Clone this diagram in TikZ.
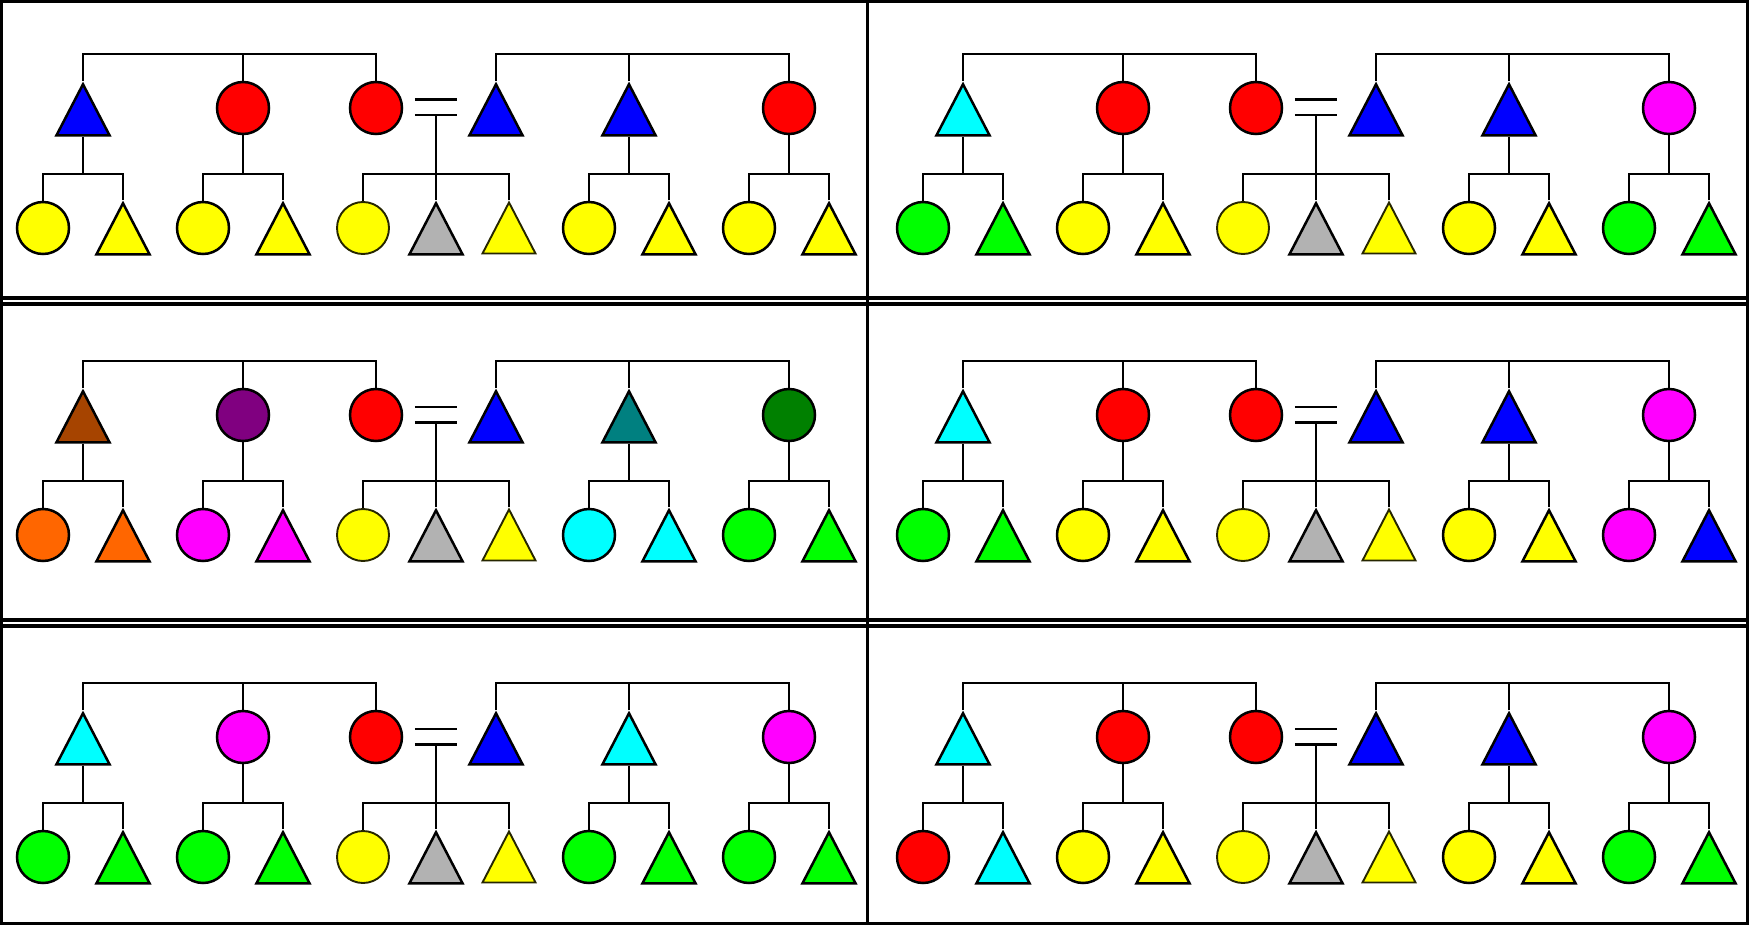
\PassOptionsToPackage{svgnames}{xcolor}
\documentclass[tikz,border=0pt]{standalone}
\usepackage{tikz}
\usetikzlibrary{shapes.geometric}
\definecolor{Rust}{RGB}{166,68,0}
\definecolor{Ash}{RGB}{178,178,178}
\definecolor{Pumpkin}{RGB}{255,102,0}

\begin{document}
\begin{tikzpicture}
          [x=1pt, y=-1pt, line width=2.5pt,
           male/.style={draw, isosceles triangle, isosceles triangle stretches,
                        shape border rotate=90, minimum width=53pt, minimum height=51pt,
                        inner sep=0pt, anchor=north, fill=#1},
           female/.style={draw, circle, minimum size=52pt, inner sep=0pt, fill=#1},
           faint/.style={line width=1.9pt, draw=black!85!Yellow},
           spouses/.style={minimum width=40pt, minimum height=13pt, inner sep=0pt},
           frame/.style={line width=3.5pt}]
          \useasboundingbox (0,0) rectangle (1750,925);

          \foreach \ox/\oy/\n/\ta/\tb/\tc/\td/\te/\tf/\ka/\kb/\kc/\kd/\ke/\kf/\kg/\kh/\ki/\kj/\kk in
            {0/0/A/Blue/Red/Red/Blue/Blue/Red/Yellow/Yellow/Yellow/Yellow/Yellow/Ash/Yellow/Yellow/Yellow/Yellow/Yellow,
             880/0/B/Cyan/Red/Red/Blue/Blue/Magenta/Lime/Lime/Yellow/Yellow/Yellow/Ash/Yellow/Yellow/Yellow/Lime/Lime,
             0/307/C/Rust/Purple/Red/Blue/Teal/Green/Pumpkin/Pumpkin/Magenta/Magenta/Yellow/Ash/Yellow/Cyan/Cyan/Lime/Lime,
             880/307/D/Cyan/Red/Red/Blue/Blue/Magenta/Lime/Lime/Yellow/Yellow/Yellow/Ash/Yellow/Yellow/Yellow/Magenta/Blue,
             0/629/E/Cyan/Magenta/Red/Blue/Cyan/Magenta/Lime/Lime/Lime/Lime/Yellow/Ash/Yellow/Lime/Lime/Lime/Lime,
             880/629/F/Cyan/Red/Red/Blue/Blue/Magenta/Red/Cyan/Yellow/Yellow/Yellow/Ash/Yellow/Yellow/Yellow/Lime/Lime}
          {
          \begin{scope}[shift={(\ox,\oy)}]
          % parents' generation
          \node (\n1) [male=\ta] at (83,81) {};
          \node (\n2) [female=\tb] at (243,108) {};
          \node (\n3) [female=\tc] at (376,108) {};
          \node (\n0) [spouses] at (436,107.5) {};
          \node (\n4) [male=\td] at (496,81) {};
          \node (\n5) [male=\te] at (629,81) {};
          \node (\n6) [female=\tf] at (789,108) {};
          % children
          \node (\n7) [female=\ka] at (43,228) {};
          \node (\n8) [male=\kb] at (123,200) {};
          \node (\n9) [female=\kc] at (203,228) {};
          \node (\n10) [male=\kd] at (283,200) {};
          \node (\n11) [female=\ke, faint] at (363,228) {};
          \node (\n12) [male=\kf] at (436,200) {};
          \node (\n13) [male=\kg, faint] at (509,200) {};
          \node (\n14) [female=\kh] at (589,228) {};
          \node (\n15) [male=\ki] at (669,200) {};
          \node (\n16) [female=\kj] at (749,228) {};
          \node (\n17) [male=\kk] at (829,200) {};
          \coordinate (\n-s) at (0,54);
          \coordinate (\n-k) at (0,174);

          \draw (\n1.north) |- (\n2.north |- \n-s) -| (\n3.north);
          \draw (\n2.north) -- (\n2.north |- \n-s);
          \draw (\n4.north) |- (\n5.north |- \n-s) -| (\n6.north);
          \draw (\n5.north) -- (\n5.north |- \n-s);
          \draw (\n0.north west) -- (\n0.north east) (\n0.south west) -- (\n0.south east);

          \draw (\n1.south) -- (\n1.south |- \n-k);
          \draw (\n7.north) |- (\n1.south |- \n-k) -| (\n8.north);
          \draw (\n2.south) -- (\n2.south |- \n-k);
          \draw (\n9.north) |- (\n2.south |- \n-k) -| (\n10.north);
          \draw (\n0.south) -- (\n12.north);
          \draw (\n11.north) |- (\n12.north |- \n-k) -| (\n13.north);
          \draw (\n5.south) -- (\n5.south |- \n-k);
          \draw (\n14.north) |- (\n5.south |- \n-k) -| (\n15.north);
          \draw (\n6.south) -- (\n6.south |- \n-k);
          \draw (\n16.north) |- (\n6.south |- \n-k) -| (\n17.north);
          \end{scope}
          }

          \draw[frame] (1.5,1.5) rectangle (1747.5,923.5);
          \draw[frame] (867.5,1.5) -- (867.5,923.5);
          \draw[frame] (1.5,298) -- (1747.5,298) (1.5,304) -- (1747.5,304);
          \draw[frame] (1.5,620) -- (1747.5,620) (1.5,626) -- (1747.5,626);

        \end{tikzpicture}
\end{document}
